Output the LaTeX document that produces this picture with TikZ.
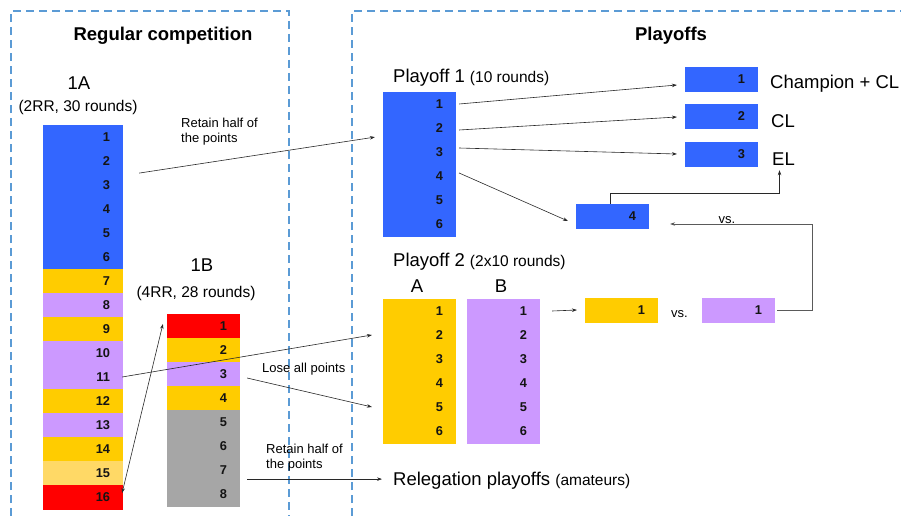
\documentclass[tikz,border=0pt]{standalone}
\usepackage{fontspec}
\setmainfont{Liberation Sans}
\usetikzlibrary{arrows.meta,calc}
\definecolor{cblue}{RGB}{51,102,255}
\definecolor{cyellow}{RGB}{255,204,0}
\definecolor{cpurple}{RGB}{204,153,255}
\definecolor{clight}{RGB}{255,217,102}
\definecolor{cred}{RGB}{255,0,0}
\definecolor{cgray}{RGB}{166,166,166}
\definecolor{cdash}{RGB}{91,155,213}
\definecolor{cline}{RGB}{40,40,40}
\definecolor{cvs}{RGB}{90,90,90}
\newcommand\fbig{\fontsize{18.5}{22}\selectfont}
\newcommand\fmid{\fontsize{15.5}{18}\selectfont}
\newcommand\fsmall{\fontsize{13}{15.5}\selectfont}
\newcommand\fnum{\fontsize{12.8}{14}\selectfont\bfseries}
\tikzset{
  cell/.style={rectangle, fill=#1, draw=#1, line width=0.2pt, inner xsep=12pt, inner ysep=0pt,
               minimum height=24pt, align=right, font=\fnum, text=black!92},
  cellA/.style={cell=#1, text width=55pt},
  cellB/.style={cell=#1, text width=48pt},
  conn/.style={draw=cline, line width=0.6pt, -{Stealth[length=5pt,width=3.5pt]}},
  dconn/.style={draw=cline, line width=0.6pt, {Stealth[length=5pt,width=3.5pt]}-{Stealth[length=5pt,width=3.5pt]}},
  frame/.style={draw=cdash, line width=1.6pt, dash pattern=on 8pt off 5pt},
  lbl/.style={inner sep=0pt, text=black},
}
\begin{document}
\begin{tikzpicture}[x=1pt,y=-1pt]
\useasboundingbox (0,0) rectangle (901,516);
% frames
\draw[frame] (11,516) -- (11,11) -- (289,11) -- (289,516);
\draw[frame] (352,516) -- (352,11) -- (901,11);
% titles
\node[lbl, font=\fbig\bfseries] (t1) at (163,36) {Regular competition};
\node[lbl, font=\fbig\bfseries] (t2) at (671,36) {Playoffs};
% 1A
\node[lbl, font=\fbig] (h1a) at (79,83) {1A};
\node[lbl, font=\fmid] (s1a) at (78,107) {(2RR, 30 rounds)};
\foreach \i/\c in {1/cblue,2/cblue,3/cblue,4/cblue,5/cblue,6/cblue,7/cyellow,8/cpurple,9/cyellow,10/cpurple,11/cpurple,12/cyellow,13/cpurple,14/cyellow,15/clight,16/cred}
  \node[cellA=\c] (a\i) at (82.5,{113+24*\i}) {\i};
% 1B
\node[lbl, font=\fbig] (h1b) at (202,265) {1B};
\node[lbl, font=\fmid] (s1b) at (196,293) {(4RR, 28 rounds)};
\foreach \i/\c in {1/cred,2/cyellow,3/cpurple,4/cyellow,5/cgray,6/cgray,7/cgray,8/cgray}
  \node[cellB=\c] (b\i) at (203,{302+24*\i}) {\i};
% Playoff 1
\node[lbl, anchor=base west] (p1t) at (393,83) {\fbig Playoff 1 {\fmid (10 rounds)}};
\foreach \i in {1,...,6}
  \node[cellB=cblue] (p\i) at (419,{80+24*\i}) {\i};
% results
\node[cellB=cblue] (r1) at (721,79) {1};
\node[cellB=cblue] (r2) at (721,116) {2};
\node[cellB=cblue] (r3) at (721,154) {3};
\node[lbl, anchor=base west, font=\fbig] (champ) at (770,89) {Champion + CL};
\node[lbl, anchor=base west, font=\fbig] (cl) at (771,127) {CL};
\node[lbl, anchor=base west, font=\fbig] (el) at (772,165) {EL};
\node[cellB=cblue] (f4) at (612,216) {4};
% Playoff 2
\node[lbl, anchor=base west] (p2t) at (393,266) {\fbig Playoff 2 {\fmid (2x10 rounds)}};
\node[lbl, anchor=base, font=\fbig] (ha) at (417,292) {A};
\node[lbl, anchor=base, font=\fbig] (hb) at (501,292) {B};
\foreach \i in {1,...,6}{
  \node[cellB=cyellow] (A\i) at (419,{287+24*\i}) {\i};
  \node[cellB=cpurple] (B\i) at (503,{287+24*\i}) {\i};
}
\node[cellB=cyellow] (fa) at (621,310) {1};
\node[cellB=cpurple] (fb) at (738,310) {1};
\node[lbl, font=\fsmall] (vs1) at ($(fa.east)!0.5!(fb.west)+(0,4)$) {vs.};
% relegation
\node[lbl, anchor=base west] (rel) at (393,485) {\fbig Relegation playoffs {\fmid (amateurs)}};
% labels
\node[lbl, anchor=north west, align=left, font=\fsmall] (ret1) at (181,117.5) {Retain half of\\the points};
\node[lbl, anchor=base west, font=\fsmall] (lose) at (262,372) {Lose all points};
\node[lbl, anchor=north west, align=left, font=\fsmall] (ret2) at (266,443.5) {Retain half of\\the points};
% connectors
\draw[conn] ([xshift=17pt]a2.south east) -- ([xshift=-8pt,yshift=3pt]p2.south west);
\draw[conn] ([xshift=4pt]p1.east) -- ([xshift=-8pt,yshift=-6pt]r1.west);
\draw[conn] ([xshift=4pt,yshift=-2pt]p2.east) -- ([xshift=-8pt,yshift=-1pt]r2.west);
\draw[conn] ([xshift=4pt,yshift=4pt]p3.east) -- ([xshift=-8pt]r3.west);
\draw[conn] ([xshift=4pt,yshift=3pt]p4.east) -- ([xshift=-8pt,yshift=-5pt]f4.west);
\draw[conn] ([xshift=-2pt]f4.north) -- ++(0,-11) -| ([xshift=-4pt,yshift=-5pt]el.south);
\draw[conn, draw=cvs] ([xshift=3pt]fb.east) -- ++(35,0) |- ([xshift=22pt,yshift=-8pt]f4.east)
  node[lbl, pos=0.8, anchor=base, font=\fsmall, yshift=1pt] (vs2) {vs.};
\draw[conn] ([xshift=13pt]B1.east) -- ([xshift=-8pt]fa.west);
\draw[conn] (a11.east) -- ([xshift=-11pt]A2.west);
\draw[conn] ([xshift=8pt,yshift=-4pt]b3.east) -- ([xshift=-11pt]A5.west);
\draw[conn] ([xshift=8pt,yshift=3pt]b7.south east) coordinate (rs) -- ([xshift=-11pt]rs -| rel.west);
\draw[dconn] ([yshift=4pt]a16.east) -- ([xshift=-4pt,yshift=2pt]b1.west);
\end{tikzpicture}
\end{document}
